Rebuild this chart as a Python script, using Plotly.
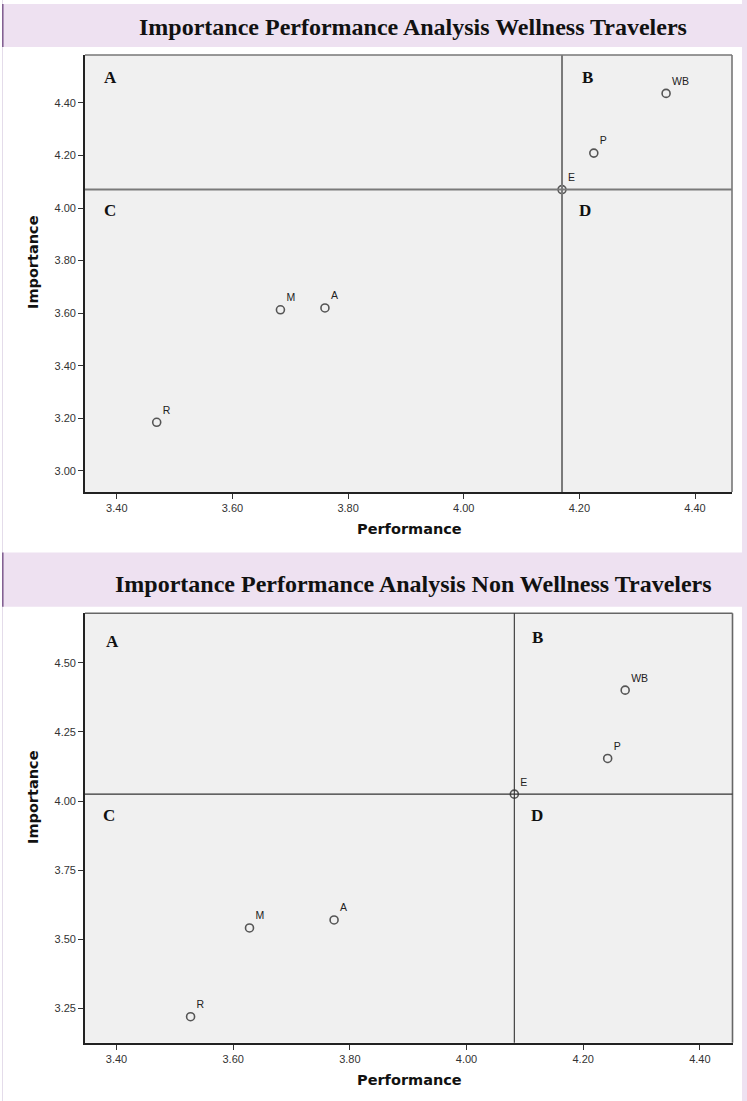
import plotly.graph_objects as go

W, H = 747, 1101

# ---------------- data ----------------
codes = ["WB", "P", "E", "M", "A", "R"]
wellness_perf = [4.35, 4.225, 4.17, 3.683, 3.760, 3.469]
wellness_imp = [4.436, 4.209, 4.07, 3.613, 3.620, 3.185]
non_perf = [4.272, 4.242, 4.082, 3.628, 3.773, 3.527]
non_imp = [4.401, 4.154, 4.025, 3.541, 3.570, 3.220]

x_ticks = [3.40, 3.60, 3.80, 4.00, 4.20, 4.40]
y_ticks_top = [3.00, 3.20, 3.40, 3.60, 3.80, 4.00, 4.20, 4.40]
y_ticks_bot = [3.25, 3.50, 3.75, 4.00, 4.25, 4.50]
quadrants = ["A", "B", "C", "D"]
titles = ["Importance Performance Analysis Wellness Travelers",
          "Importance Performance Analysis Non Wellness Travelers"]

# ---------------- layout helpers ----------------
def px_x(p):
    return p / W

def px_y(p):
    return 1 - p / H

LAV = "#EEE1F1"
fig = go.Figure()

# plot boxes in pixels: (left, top, right, bottom)
boxes = [(85, 55, 732, 492), (85, 613.3, 732.5, 1042.7)]

marker_style = dict(symbol="circle-open", size=8, color="#555555",
                    line=dict(width=1.6, color="#555555"))
pt_font = dict(family="Arial, Liberation Sans", size=10.5, color="#222")

fig.add_trace(go.Scatter(x=wellness_perf, y=wellness_imp, text=codes,
                         mode="markers+text", textposition="top right",
                         marker=marker_style, cliponaxis=False, textfont=pt_font,
                         xaxis="x", yaxis="y", showlegend=False, hoverinfo="skip"))
fig.add_trace(go.Scatter(x=non_perf, y=non_imp, text=codes,
                         mode="markers+text", textposition="top right",
                         marker=marker_style, cliponaxis=False, textfont=pt_font,
                         xaxis="x2", yaxis="y2", showlegend=False, hoverinfo="skip"))

tickfont = dict(family="Arial, Liberation Sans", size=11, color="#333")

def axis_common(domain):
    return dict(domain=domain, showgrid=False, zeroline=False, showline=True,
                linecolor="#222", linewidth=1.6, ticks="outside", ticklen=5,
                tickwidth=1.2, tickcolor="#333", tickfont=tickfont, mirror=False)

b1, b2 = boxes
fig.update_layout(
    width=W, height=H, autosize=False,
    margin=dict(l=0, r=0, t=0, b=0),
    paper_bgcolor="white", plot_bgcolor="#F0F0F0",
    xaxis=dict(**axis_common([px_x(b1[0]), px_x(b1[2])]), anchor="y",
               range=[3.345, 4.464], tickvals=x_ticks, tickformat=".2f"),
    yaxis=dict(**axis_common([px_y(b1[3]), px_y(b1[1])]), anchor="x",
               range=[2.92, 4.582], tickvals=y_ticks_top, tickformat=".2f"),
    xaxis2=dict(**axis_common([px_x(b2[0]), px_x(b2[2])]), anchor="y2",
                range=[3.346, 4.456], tickvals=x_ticks, tickformat=".2f"),
    yaxis2=dict(**axis_common([px_y(b2[3]), px_y(b2[1])]), anchor="x2",
                range=[3.126, 4.679], tickvals=y_ticks_bot, tickformat=".2f"),
)

shapes = []
# right lavender strip and faint left line
shapes.append(dict(type="rect", xref="paper", yref="paper", x0=px_x(742), x1=1,
                   y0=0, y1=1, fillcolor=LAV, line=dict(width=0), layer="below"))
shapes.append(dict(type="line", xref="paper", yref="paper", x0=px_x(2.5), x1=px_x(2.5),
                   y0=0, y1=1, line=dict(color="#E4DCEA", width=1), layer="below"))
# title bands
for (t0, t1) in [(4, 47), (552.5, 606.7)]:
    shapes.append(dict(type="rect", xref="paper", yref="paper", x0=px_x(3), x1=1,
                       y0=px_y(t1), y1=px_y(t0), fillcolor=LAV, line=dict(width=0),
                       layer="below"))
    shapes.append(dict(type="line", xref="paper", yref="paper", x0=px_x(2.8), x1=px_x(2.8),
                       y0=px_y(t1), y1=px_y(t0), line=dict(color="#7E5A8E", width=1.5)))

# top/right plot borders (gray)
for ax, ay, col in [("x", "y", "#777"), ("x2", "y2", "#666")]:
    shapes.append(dict(type="line", xref=f"{ax} domain", yref=f"{ay} domain",
                       x0=0, x1=1, y0=1, y1=1, line=dict(color=col, width=1.6)))
    shapes.append(dict(type="line", xref=f"{ax} domain", yref=f"{ay} domain",
                       x0=1, x1=1, y0=0, y1=1, line=dict(color=col, width=1.6)))

# quadrant lines through the E (mean) point
for ax, ay, perf, imp, col, wd in [("x", "y", wellness_perf, wellness_imp, "#7A7A7A", 2),
                                   ("x2", "y2", non_perf, non_imp, "#333333", 1.1)]:
    e = codes.index("E")
    shapes.append(dict(type="line", xref=ax, yref=f"{ay} domain", x0=perf[e], x1=perf[e],
                       y0=0, y1=1, line=dict(color=col, width=wd)))
    shapes.append(dict(type="line", xref=f"{ax} domain", yref=ay, x0=0, x1=1,
                       y0=imp[e], y1=imp[e], line=dict(color=col, width=wd)))
fig.update_layout(shapes=shapes)

annotations = []
title_font = dict(family="Times New Roman, Liberation Serif", size=24, color="#111")
for txt, yc in zip(titles, [27, 583.5]):
    annotations.append(dict(text=f"<b>{txt}</b>", xref="paper", yref="paper",
                            x=px_x(413), y=px_y(yc), showarrow=False,
                            xanchor="center", yanchor="middle", font=title_font))

qfont = dict(family="Times New Roman, Liberation Serif", size=17, color="#111")
qpos_top = [(110, 78), (587, 78), (110, 211), (585, 211)]
qpos_bot = [(112, 641), (537, 637), (109, 815), (537, 815)]
for ax, ay, box, qpos in [("x", "y", b1, qpos_top), ("x2", "y2", b2, qpos_bot)]:
    for q, (qx, qy) in zip(quadrants, qpos):
        annotations.append(dict(text=f"<b>{q}</b>", xref=f"{ax} domain", yref=f"{ay} domain",
                                x=(qx - box[0]) / (box[2] - box[0]),
                                y=1 - (qy - box[1]) / (box[3] - box[1]),
                                showarrow=False, xanchor="center", yanchor="middle",
                                font=qfont))

lab_font = dict(family="DejaVu Sans", size=14.5, color="#111")
for yc_perf, yc_imp in [(529, 262), (1080, 797)]:
    annotations.append(dict(text="<b>Performance</b>", xref="paper", yref="paper",
                            x=px_x(409), y=px_y(yc_perf), showarrow=False,
                            xanchor="center", yanchor="middle", font=lab_font))
    annotations.append(dict(text="<b>Importance</b>", xref="paper", yref="paper",
                            x=px_x(33), y=px_y(yc_imp), showarrow=False, textangle=-90,
                            xanchor="center", yanchor="middle", font=lab_font))
fig.update_layout(annotations=annotations)

fig.write_html("out.html", config={"displayModeBar": False},
               post_script="document.body.style.margin='0';document.body.style.overflow='hidden';")
